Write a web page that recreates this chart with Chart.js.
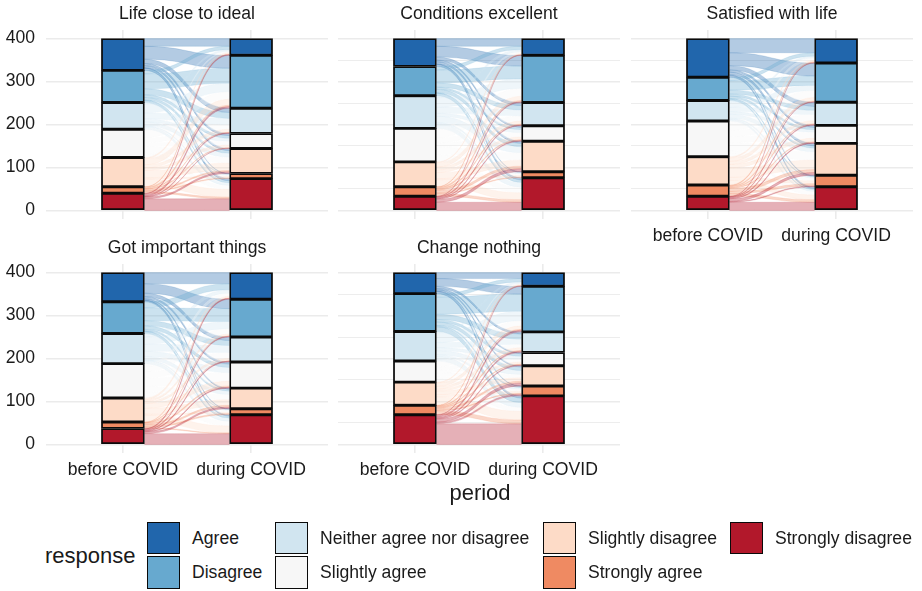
<!DOCTYPE html>
<html>
<head>
<meta charset="utf-8">
<script src="https://cdn.jsdelivr.net/npm/chart.js@4.4.1/dist/chart.umd.min.js"></script>
<style>
  html, body { margin: 0; padding: 0; background: #ffffff; }
  #page { position: relative; width: 922px; height: 591px; overflow: hidden;
          font-family: "Liberation Sans", Arial, Helvetica, sans-serif; color: #1a1a1a; }
  #page canvas { position: absolute; }
  .txt { position: absolute; white-space: nowrap; line-height: 1; }
  .key { position: absolute; box-sizing: border-box; width: 33px; height: 32.5px; border: 1.8px solid #0a0a0a; }
</style>
</head>
<body>
<div id="page"></div>
<script>
// ---- data -------------------------------------------------------------
const periods = ['before COVID', 'during COVID'];
const responses = ['Agree', 'Disagree', 'Neither agree nor disagree', 'Slightly agree',
                   'Slightly disagree', 'Strongly agree', 'Strongly disagree'];
const responseColors = ['#2166AC', '#67A9CF', '#D1E5F0', '#F7F7F7', '#FDDBC7', '#EF8A62', '#B2182B'];
const panelTitles = ['Life close to ideal', 'Conditions excellent', 'Satisfied with life',
                     'Got important things', 'Change nothing'];
const yTickValues = [0, 50, 100, 150, 200, 250, 300, 350, 400];

// Respondent counts moving between answers.
// Rows: answer before COVID, columns: answer during COVID (both in `responses` order).
const lifeCloseToIdeal = [
  [18, 30, 10,  5,  5, 1,  5],
  [ 8, 35, 14,  6,  6, 1,  5],
  [ 4, 20, 14,  7,  9, 2,  6],
  [ 3, 17, 11,  9, 14, 3,  9],
  [ 3, 14,  7,  6, 17, 3, 18],
  [ 1,  3,  1,  1,  3, 2,  4],
  [ 2,  4,  2,  1,  4, 0, 27]
];
const conditionsExcellent = [
  [18, 25,  7,  4,  5, 1,  5],
  [ 8, 30, 10,  5,  8, 1,  6],
  [ 5, 22, 14,  7, 14, 3, 11],
  [ 4, 18, 12, 10, 17, 4, 13],
  [ 2, 10,  7,  6, 14, 3, 16],
  [ 1,  3,  2,  2,  6, 2,  6],
  [ 1,  2,  2,  2,  7, 0, 19]
];
const satisfiedWithLife = [
  [33, 30, 10,  5,  6, 2,  4],
  [ 8, 22,  9,  5,  5, 2,  3],
  [ 4, 12, 10,  6,  9, 3,  4],
  [ 6, 16, 14, 14, 19, 6,  8],
  [ 3,  8,  7,  8, 22, 7, 11],
  [ 2,  2,  2,  2,  7, 5,  6],
  [ 1,  1,  2,  2,  6, 2, 19]
];
const gotImportantThings = [
  [26, 22,  8,  5,  3, 1,  3],
  [14, 30, 12,  8,  4, 1,  5],
  [ 8, 17, 16, 12,  8, 2,  7],
  [ 7, 12, 14, 20, 12, 4, 11],
  [ 4,  4,  5, 11, 13, 3, 16],
  [ 1,  1,  1,  3,  4, 3,  2],
  [ 2,  2,  2,  2,  4, 0, 25]
];
const changeNothing = [
  [14, 18,  5,  3,  3, 1,  5],
  [ 8, 40, 12,  6,  8, 3, 11],
  [ 4, 22, 12,  7,  9, 4, 11],
  [ 2, 12,  8,  6,  8, 4,  9],
  [ 2,  8,  6,  5,  8, 5, 20],
  [ 1,  2,  2,  2,  4, 2,  9],
  [ 1,  4,  3,  2,  7, 4, 48]
];
const panelFlows = [lifeCloseToIdeal, conditionsExcellent, satisfiedWithLife,
                    gotImportantThings, changeNothing];

// ---- helpers ----------------------------------------------------------
const FONT = '"Liberation Sans", Arial, Helvetica, sans-serif';
const TEXT = '#1a1a1a';
const GRID = '#EBEBEB';

function hexToRgba(hex, a) {
  const n = parseInt(hex.slice(1), 16);
  return `rgba(${(n >> 16) & 255},${(n >> 8) & 255},${n & 255},${a})`;
}
const rowTotals = m => m.map(r => r.reduce((s, v) => s + v, 0));
const colTotals = m => m[0].map((_, j) => m.reduce((s, r) => s + r[j], 0));

// Alluvial ribbons between the two stacked columns, placed with the chart's scales.
const flowPlugin = {
  id: 'flows',
  beforeDatasetsDraw(chart, args, opts) {
    const m = opts.matrix;
    if (!m) return;
    const { ctx, chartArea, scales: { x, y } } = chart;
    const bar = chart.getDatasetMeta(0).data[0];
    const half = bar.width / 2;
    const xa = x.getPixelForValue(0) + half;
    const xb = x.getPixelForValue(1) - half;
    const dx = xb - xa;
    const rows = rowTotals(m), cols = colTotals(m);
    const total = rows.reduce((s, v) => s + v, 0);
    const leftTop = [], rightTop = [];
    let acc = total;
    rows.forEach(v => { leftTop.push(acc); acc -= v; });
    acc = total;
    cols.forEach(v => { rightTop.push(acc); acc -= v; });
    const leftUsed = rows.map(() => 0), rightUsed = cols.map(() => 0);
    const ribbons = [];
    for (let i = 0; i < m.length; i++) {
      for (let j = 0; j < m[i].length; j++) {
        const n = m[i][j];
        const lt = leftTop[i] - leftUsed[i];
        const rt = rightTop[j] - rightUsed[j];
        leftUsed[i] += n; rightUsed[j] += n;
        if (n > 0) ribbons.push({ i, lt, lb: lt - n, rt, rb: rt - n });
      }
    }
    ctx.save();
    ctx.beginPath();
    ctx.rect(chartArea.left, chartArea.top, chartArea.width, chartArea.height);
    ctx.clip();
    const c1 = xa + dx * 0.5, c2 = xb - dx * 0.5;
    ribbons.forEach(r => {
      const yLt = y.getPixelForValue(r.lt), yLb = y.getPixelForValue(r.lb);
      const yRt = y.getPixelForValue(r.rt), yRb = y.getPixelForValue(r.rb);
      ctx.beginPath();
      ctx.moveTo(xa, yLt);
      ctx.bezierCurveTo(c1, yLt, c2, yRt, xb, yRt);
      ctx.lineTo(xb, yRb);
      ctx.bezierCurveTo(c2, yRb, c1, yLb, xa, yLb);
      ctx.closePath();
      ctx.fillStyle = hexToRgba(responseColors[r.i], 0.34);
      ctx.fill();
      ctx.lineWidth = 0.6;
      ctx.strokeStyle = hexToRgba(responseColors[r.i], 0.26);
      ctx.beginPath();
      ctx.moveTo(xa, yLt);
      ctx.bezierCurveTo(c1, yLt, c2, yRt, xb, yRt);
      ctx.moveTo(xa, yLb);
      ctx.bezierCurveTo(c1, yLb, c2, yRb, xb, yRb);
      ctx.stroke();
    });
    ctx.restore();
  }
};

// ---- layout ----------------------------------------------------------
const page = document.getElementById('page');
const panels = [
  { left: 0,   top: 0,   width: 328, showY: true,  showX: false },
  { left: 338, top: 0,   width: 282, showY: false, showX: false },
  { left: 631, top: 0,   width: 282, showY: false, showX: true  },
  { left: 0,   top: 234, width: 328, showY: true,  showX: true  },
  { left: 338, top: 234, width: 282, showY: false, showX: true  }
];
const tickFont = { family: FONT, size: 17.6 };

panels.forEach((p, k) => {
  const canvas = document.createElement('canvas');
  canvas.width = p.width; canvas.height = 249;
  canvas.style.left = p.left + 'px'; canvas.style.top = p.top + 'px';
  canvas.style.width = p.width + 'px'; canvas.style.height = '249px';
  page.appendChild(canvas);

  const m = panelFlows[k];
  const before = rowTotals(m), during = colTotals(m);
  // bottom of the stack first: reverse of `responses`
  const datasets = responses.map((name, i) => ({
    label: name,
    data: [{ x: 0, y: before[i] }, { x: 1, y: during[i] }],
    backgroundColor: responseColors[i],
    borderColor: '#0a0a0a',
    borderWidth: 1.8,
    borderSkipped: false,
    barThickness: 43
  })).reverse();

  new Chart(canvas, {
    type: 'bar',
    data: { datasets },
    plugins: [flowPlugin],
    options: {
      responsive: false,
      animation: false,
      devicePixelRatio: 1,
      layout: { padding: 0 },
      scales: {
        x: {
          type: 'linear', min: -0.6, max: 1.6, stacked: true, offset: false,
          afterBuildTicks: s => { s.ticks = periods.map((_, i) => ({ value: i })); },
          afterFit: s => { s.height = 30; },
          ticks: { display: p.showX, autoSkip: false, maxRotation: 0, padding: 7,
                   font: tickFont, color: TEXT,
                   callback: (v, i) => periods[i] },
          grid: { color: GRID, lineWidth: 1.6, drawTicks: false, offset: false },
          border: { display: false }
        },
        y: {
          min: -20, max: 420, stacked: true,
          afterBuildTicks: s => { s.ticks = yTickValues.map(v => ({ value: v })); },
          afterFit: s => { s.width = p.showY ? 46 : 0; },
          ticks: { display: p.showY, padding: 11, font: tickFont, color: TEXT,
                   callback: v => (v % 100 === 0 ? String(v) : '') },
          grid: { color: GRID, drawTicks: false,
                  lineWidth: c => (c.tick && c.tick.value % 100 === 0 ? 1.6 : 0.9) },
          border: { display: false }
        }
      },
      plugins: {
        legend: { display: false },
        tooltip: { enabled: false },
        title: { display: true, text: panelTitles[k], fullSize: false, color: TEXT,
                 font: { family: FONT, size: 17.6, weight: 'normal', lineHeight: '20px' },
                 padding: { top: 4, bottom: 6 } },
        flows: { matrix: m }
      }
    }
  });
});

// ---- shared axis title and legend ------------------------------------
function addText(str, left, top, size, extra) {
  const d = document.createElement('div');
  d.className = 'txt';
  d.textContent = str;
  d.style.left = left + 'px'; d.style.top = top + 'px'; d.style.fontSize = size + 'px';
  if (extra) Object.assign(d.style, extra);
  page.appendChild(d);
  return d;
}
addText('period', 480, 482, 22, { transform: 'translateX(-50%)' });
addText('response', 45, 545, 22);

const keyCols = [147, 275, 543, 730];
const keyRows = [521.5, 556];
responses.forEach((name, i) => {
  const col = Math.floor(i / 2), row = i % 2;
  const key = document.createElement('div');
  key.className = 'key';
  key.style.left = keyCols[col] + 'px';
  key.style.top = keyRows[row] + 'px';
  key.style.background = responseColors[i];
  page.appendChild(key);
  addText(name, keyCols[col] + 45, keyRows[row] + 8, 17.6);
});
</script>
</body>
</html>
